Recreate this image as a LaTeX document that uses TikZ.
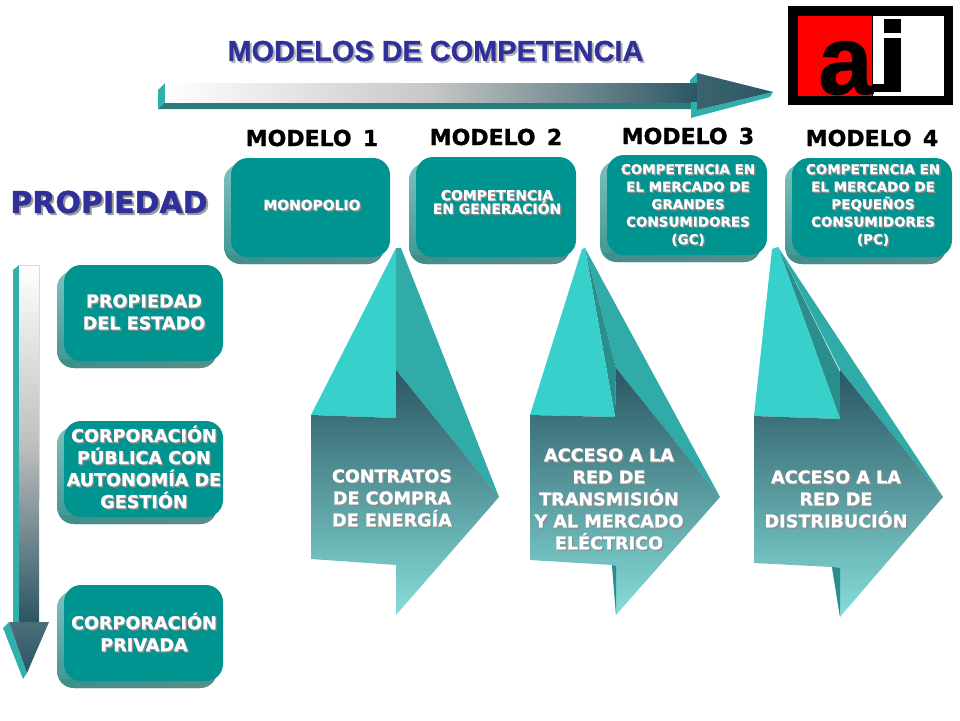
\documentclass[tikz,border=0pt]{standalone}
\usepackage{fontspec}
\setmainfont{DejaVu Sans}[BoldFeatures={FakeBold=1.2}]
\newfontfamily\arialfont{Liberation Sans}[BoldFeatures={FakeBold=0.8}]
\usetikzlibrary{positioning}

\definecolor{boxteal}{HTML}{009490}
\definecolor{bevelteal}{HTML}{2FB0AC}
\definecolor{lightteal}{HTML}{38D0CA}
\definecolor{midteal}{HTML}{30ABA7}
\definecolor{deepteal}{HTML}{2A8F8C}
\definecolor{bandteal}{HTML}{2A7D78}
\definecolor{darkslate}{HTML}{2A5663}
\definecolor{paleteal}{HTML}{86DEDA}
\definecolor{titleblue}{HTML}{30309A}
\definecolor{bevelup}{HTML}{7CC2BD}
\definecolor{beveldown}{HTML}{3E9490}
\definecolor{stripleft}{HTML}{3E8F8B}
\definecolor{stripright}{HTML}{5A8E8B}

\newcommand{\shadowed}[4][boxlabel]{
\node[#1,shadowcopy] at ([shift={(1.3,1.3)}]#3) {#4};
\node[#1] (#2) at (#3) {#4};
}
\newcommand{\modelbox}[4]{
\shade[rounded corners=17,top color=bevelup,bottom color=beveldown] (#1-7,#2+6) rectangle (#3-6,#4+7);
\begin{scope}
\clip (#1-7,#4-2) rectangle (#3,#4+7);
\shade[rounded corners=17,left color=stripleft,right color=stripright] (#1-7,#2+6) rectangle (#3-6,#4+7);
\end{scope}
\fill[boxteal,rounded corners=17] (#1,#2) rectangle (#3,#4);
}

\begin{document}
\begin{tikzpicture}
[
x=1pt,y=-1pt,
boxlabel/.style={align=center,font=\bfseries\fontsize{17.6}{22}\selectfont,text=white,inner sep=0pt},
smalllabel/.style={align=center,font=\bfseries\fontsize{13.5}{17.5}\selectfont,text=white,inner sep=0pt},
tinylabel/.style={align=center,font=\bfseries\fontsize{13.9}{13.5}\selectfont,text=white,inner sep=0pt},
modellabel/.style={font=\bfseries\fontsize{22}{24}\selectfont,text=black,inner sep=0pt},
titlelabel/.style={font=\arialfont\bfseries\fontsize{28.9}{30}\selectfont},
ownerlabel/.style={font=\bfseries\fontsize{30}{33}\selectfont},
shadowcopy/.style={text=black!45},
]
\useasboundingbox (0,0) rectangle (960,720);

% title and top arrow
\node[titlelabel,text=black!30] at (437.5,53) {MODELOS DE COMPETENCIA};
\node[titlelabel,text=titleblue] (title) at (435.5,51) {MODELOS DE COMPETENCIA};
\fill[bevelteal] (158,90) -- (165,83) -- (165,102) -- (158,109) -- cycle;
\fill[bandteal] (158,109) -- (165,102) -- (697,102) -- (691,109) -- cycle;
\shade[left color=white,right color=darkslate,middle color=black!22] (165,83) rectangle (698,102);
\fill[bevelteal] (690,80) -- (697,73) -- (697,83) -- (690,83) -- cycle;
\fill[bevelteal] (691,118) -- (691,102) -- (697,102) -- (697,110) -- (773,92) -- (770,97) -- cycle;
\shade[left color=darkslate!92!white,right color=darkslate] (697,73) -- (773,92) -- (697,110) -- cycle;

% logo
\fill[black] (788,6) rectangle (953,105);
\fill[red] (798,16) rectangle (872,96);
\fill[white] (873,16) rectangle (944,96);
\node[font=\arialfont\fontsize{98}{98}\selectfont\bfseries,text=black,inner sep=0pt,anchor=base] (logoa) at (845.5,94) {a};
\fill[black] (884,19) rectangle (901,33);
\fill[black] (884,38) rectangle (901,92);
\fill[black] (873,84) rectangle (884,92);

% model headings
\node[modellabel] (modelA) at (312,138) {MODELO\, 1};
\node[modellabel] (modelB) at (496,137) {MODELO\, 2};
\node[modellabel] (modelC) at (688,136) {MODELO\, 3};
\node[modellabel] (modelD) at (872,138) {MODELO\, 4};

% top boxes
\modelbox{231}{158}{390}{257}
\modelbox{416}{157}{576}{257}
\modelbox{607}{155}{767}{255}
\modelbox{792}{158}{952}{257}
\shadowed[tinylabel]{monopolio}{312,205}{MONOPOLIO}
\shadowed[tinylabel]{generacion}{497,202}{COMPETENCIA\\EN GENERACIÓN}
\shadowed[smalllabel]{grandes}{688,205}{COMPETENCIA EN\\EL MERCADO DE\\GRANDES\\CONSUMIDORES\\(GC)}
\shadowed[smalllabel]{pequenos}{873,205}{COMPETENCIA EN\\EL MERCADO DE\\PEQUEÑOS\\CONSUMIDORES\\(PC)}

% ownership
\node[ownerlabel,text=black!40] at (111,204) {PROPIEDAD};
\node[ownerlabel,text=titleblue] (propiedad) at (109,202) {PROPIEDAD};
\fill[bevelteal] (13,270) -- (19,265) -- (19,622) -- (13,622) -- cycle;
\shade[top color=white,bottom color=darkslate,middle color=black!25] (19,265) rectangle (39,622);
\draw[black!15] (19,265) -- (39,265) -- (39,500);
\fill[bevelteal] (3,628) -- (9,622) -- (27,673) -- (23,679) -- cycle;
\shade[top color=darkslate!85!white,bottom color=darkslate] (9,622) -- (49,622) -- (27,673) -- cycle;

\modelbox{64}{265}{223}{361}
\modelbox{64}{421}{223}{517}
\modelbox{64}{585}{223}{681}
\shadowed{estado}{144,312}{PROPIEDAD\\DEL ESTADO}
\shadowed{publica}{144,467}{CORPORACIÓN\\PÚBLICA CON\\AUTONOMÍA DE\\GESTIÓN}
\shadowed{privada}{144,632}{CORPORACIÓN\\PRIVADA}

% first big arrow
\fill[midteal] (396,248) -- (401,248) -- (499,497) -- (396,370) -- cycle;
\fill[lightteal] (311,415) -- (396,248) -- (396,418) -- cycle;
\shade[top color=darkslate,bottom color=paleteal] (311,415) -- (396,418) -- (396,370) -- (499,497) -- (396,615) -- (396,565) -- (311,559) -- cycle;
\shadowed{contratos}{392,498}{CONTRATOS\\DE COMPRA\\DE ENERGÍA}

% second big arrow
\fill[midteal] (585,248) -- (720,497) -- (616,368) -- cycle;
\fill[deepteal] (585,248) -- (616,368) -- (615,417) -- cycle;
\fill[lightteal] (530,415) -- (582,249) -- (585,248) -- (615,417) -- cycle;
\shade[top color=darkslate,bottom color=paleteal] (530,415) -- (615,417) -- (616,368) -- (720,497) -- (616,615) -- (612,565) -- (530,560) -- cycle;
\fill[deepteal] (612,565) -- (616,566) -- (616,615) -- cycle;
\shadowed{transmision}{609,499}{ACCESO A LA\\RED DE\\TRANSMISIÓN\\Y AL MERCADO\\ELÉCTRICO}

% third big arrow
\fill[midteal] (778,247) -- (943,497) -- (840,370) -- cycle;
\fill[deepteal] (778,247) -- (840,372) -- (840,419) -- cycle;
\fill[lightteal] (754,416) -- (772,249) -- (778,247) -- (840,419) -- cycle;
\shade[top color=darkslate,bottom color=paleteal] (754,416) -- (840,419) -- (840,370) -- (943,497) -- (840,617) -- (832,567) -- (754,563) -- cycle;
\fill[deepteal] (832,567) -- (840,568) -- (840,617) -- cycle;
\shadowed{distribucion}{836,499}{ACCESO A LA\\RED DE\\DISTRIBUCIÓN}
\end{tikzpicture}
\end{document}
